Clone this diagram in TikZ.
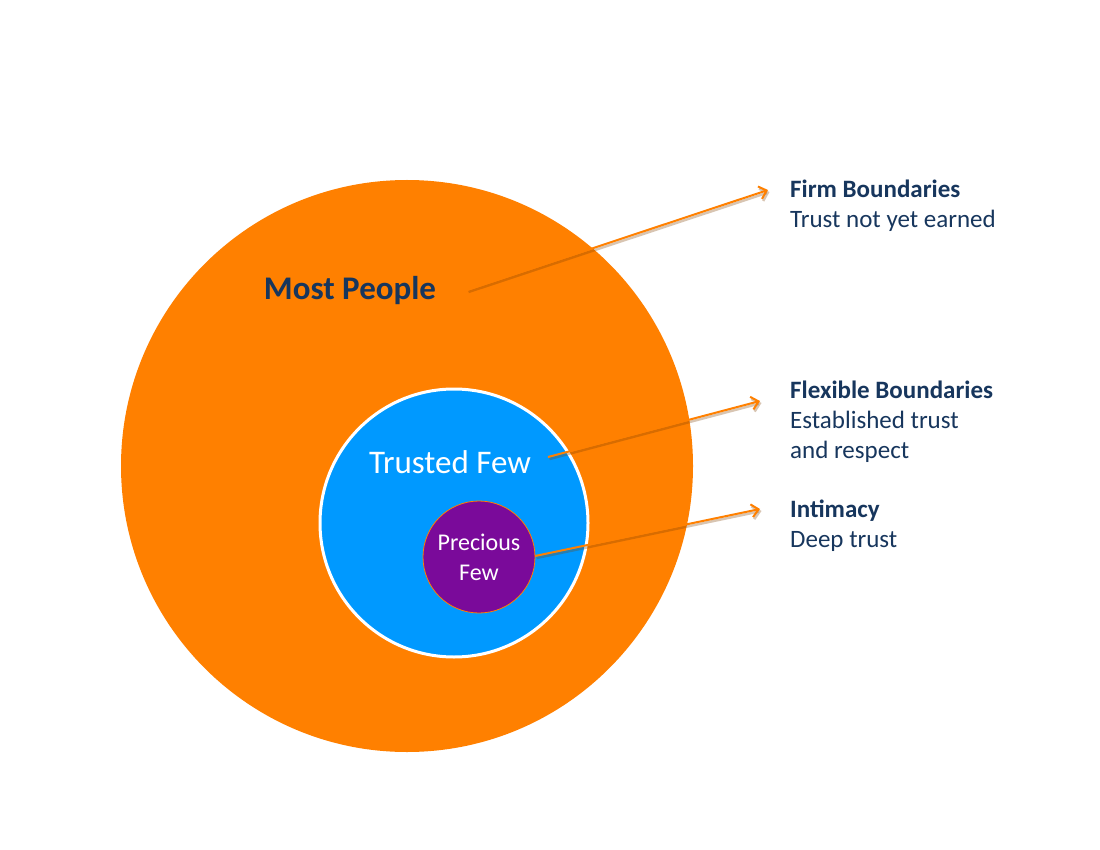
\documentclass[tikz,border=0pt]{standalone}
\usepackage{fontspec}
\setmainfont{Carlito}
\usetikzlibrary{arrows.meta,calc}
\definecolor{orng}{HTML}{FF8000}
\definecolor{blu}{HTML}{0099FF}
\definecolor{purp}{HTML}{7A0A9A}
\definecolor{navy}{HTML}{17365D}
\tikzset{
  lbl/.style={anchor=west,text=navy,font=\fontsize{25}{30}\selectfont,align=left,inner sep=0pt},
  arr/.style={draw=orng,line width=2pt,-{Straight Barb[length=7pt,width=13pt,line width=2pt]}},
  arrshadow/.style={draw=orng!50!black,opacity=0.3,line width=2.5pt,-{Straight Barb[length=7pt,width=13pt,line width=2.5pt]}},
}
\begin{document}
\begin{tikzpicture}[x=1pt,y=-1pt]
\fill[white] (0,0) rectangle (1100,850);
\useasboundingbox (0,0) rectangle (1100,850);
\node[circle,fill=orng,minimum size=572pt,inner sep=0pt] (most) at (407,466) {};
\node[circle,fill=blu,draw=white,line width=3pt,minimum size=268pt,inner sep=0pt] (trusted) at (454,523) {};
\node[circle,fill=purp,draw=orng,line width=0.8pt,minimum size=112pt,inner sep=0pt,text=white,align=center,font=\fontsize{24}{30}\selectfont] (precious) at (479,557) {Precious\\Few};
\node[text=navy,font=\bfseries\fontsize{33}{38}\selectfont,inner sep=0pt] (mp) at (350,291) {Most People};
\node[text=white,font=\fontsize{33}{38}\selectfont,inner sep=0pt] (tf) at (450,462) {Trusted Few};
\node[lbl] (firm) at (790,206) {\textbf{Firm Boundaries}\\Trust not yet earned};
\node[lbl] (flex) at (790,422) {\textbf{Flexible Boundaries}\\Established trust\\and respect};
\node[lbl] (intim) at (790,526) {\textbf{Intimacy}\\Deep trust};
\coordinate (s1) at (467,290);
\coordinate (e1) at (768,190);
\coordinate (s2) at (548,457);
\coordinate (e2) at (760,401);
\coordinate (s3) at (535,556);
\coordinate (e3) at (760,509);
\foreach \s/\e in {s1/e1,s2/e2,s3/e3}{
  \draw[arrshadow] ($(\s)+(1.5,2)$) -- ($(\e)+(1.5,2)$);
  \draw[arr] (\s) -- (\e);
}
\end{tikzpicture}
\end{document}
